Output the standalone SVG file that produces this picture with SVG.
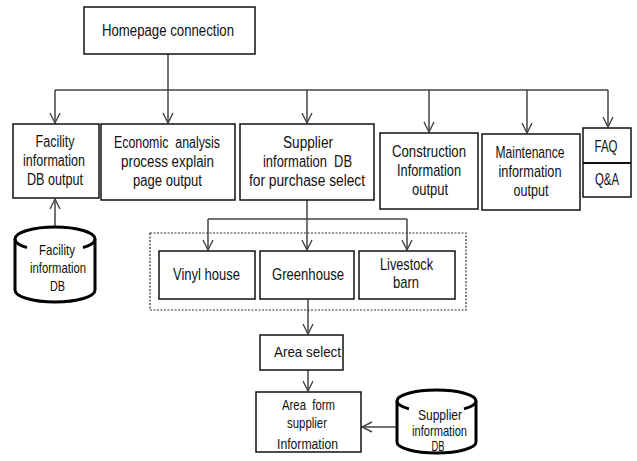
<svg xmlns="http://www.w3.org/2000/svg" width="637" height="461" viewBox="0 0 637 461">
  <defs>
    <marker id="arrow" markerUnits="userSpaceOnUse" markerWidth="12" markerHeight="12" viewBox="0 0 12 12" refX="11" refY="6" orient="auto">
      <path d="M1,1 L11,6 L1,11" fill="none" stroke="#444" stroke-width="1.4"/>
    </marker>
  </defs>
  <style>
    .box { fill: #fff; stroke: #111; stroke-width: 1.5; }
    .db { fill: #fff; stroke: #000; stroke-width: 3; }
    .dbline { fill: none; stroke: #000; stroke-width: 3; }
    .frame { fill: none; stroke: #333; stroke-width: 1.2; stroke-dasharray: 2 1.5; }
    .wire { fill: none; stroke: #444; stroke-width: 1.5; }
    .arr { fill: none; stroke: #444; stroke-width: 1.5; marker-end: url(#arrow); }
    text { font-family: "Liberation Sans", Arial, sans-serif; fill: #111; text-anchor: middle; }
    .t16 { font-size: 16px; }
    .t17 { font-size: 17px; }
    .t15 { font-size: 15px; }
    .t14 { font-size: 14.5px; }
  </style>

  <rect width="637" height="461" fill="#fff"/>

  <!-- connectors -->
  <g id="connectors">
    <path class="arr" d="M168,54 L168,123"/>
    <path class="wire" d="M55,90 L608,90"/>
    <path class="arr" d="M55,90 L55,123"/>
    <path class="arr" d="M307,90 L307,123"/>
    <path class="arr" d="M429,90 L429,132"/>
    <path class="arr" d="M527,90 L527,133"/>
    <path class="arr" d="M608,90 L608,127"/>
    <path class="arr" d="M55,227 L55,199"/>
    <path class="arr" d="M307,200 L307,250"/>
    <path class="wire" d="M208,219 L407,219"/>
    <path class="arr" d="M208,219 L208,250"/>
    <path class="arr" d="M407,219 L407,250"/>
    <path class="arr" d="M308,299 L308,334"/>
    <path class="arr" d="M308,370 L308,391"/>
    <path class="arr" d="M397,427 L362,427"/>
  </g>

  <g id="homepage">
    <rect class="box" x="84" y="7" width="171" height="47"/>
    <text class="t16" x="168" y="36" textLength="132" lengthAdjust="spacingAndGlyphs">Homepage connection</text>
  </g>

  <g id="facility-output">
    <rect class="box" x="13" y="124" width="86" height="74"/>
    <text class="t16" x="55" y="147" textLength="39" lengthAdjust="spacingAndGlyphs">Facility</text>
    <text class="t16" x="54" y="166" textLength="62" lengthAdjust="spacingAndGlyphs">information</text>
    <text class="t16" x="55" y="185" textLength="56" lengthAdjust="spacingAndGlyphs">DB output</text>
  </g>

  <g id="economic-analysis">
    <rect class="box" x="101" y="124" width="134" height="76"/>
    <text class="t16" x="167" y="148" textLength="106" lengthAdjust="spacingAndGlyphs" xml:space="preserve">Economic  analysis</text>
    <text class="t16" x="167.5" y="167" textLength="93" lengthAdjust="spacingAndGlyphs">process explain</text>
    <text class="t16" x="167.5" y="186" textLength="69" lengthAdjust="spacingAndGlyphs">page output</text>
  </g>

  <g id="supplier-select">
    <rect class="box" x="240" y="124" width="134" height="76"/>
    <text class="t16" x="308" y="148" textLength="50" lengthAdjust="spacingAndGlyphs">Supplier</text>
    <text class="t16" x="307.5" y="167" textLength="89" lengthAdjust="spacingAndGlyphs" xml:space="preserve">information  DB</text>
    <text class="t16" x="307" y="186" textLength="116" lengthAdjust="spacingAndGlyphs">for purchase select</text>
  </g>

  <g id="construction">
    <rect class="box" x="380" y="133" width="98" height="76"/>
    <text class="t17" x="429" y="157" textLength="74" lengthAdjust="spacingAndGlyphs">Construction</text>
    <text class="t17" x="429" y="176" textLength="64" lengthAdjust="spacingAndGlyphs">Information</text>
    <text class="t17" x="430" y="195" textLength="36" lengthAdjust="spacingAndGlyphs">output</text>
  </g>

  <g id="maintenance">
    <rect class="box" x="482" y="134" width="98" height="76"/>
    <text class="t17" x="530" y="158" textLength="69" lengthAdjust="spacingAndGlyphs">Maintenance</text>
    <text class="t17" x="530" y="177" textLength="63" lengthAdjust="spacingAndGlyphs">information</text>
    <text class="t17" x="531" y="196" textLength="35" lengthAdjust="spacingAndGlyphs">output</text>
  </g>

  <g id="faq-qa">
    <rect class="box" x="583" y="128" width="48" height="69"/>
    <path d="M583,163 L631,163" stroke="#111" stroke-width="2"/>
    <text class="t16" x="606" y="152" textLength="23" lengthAdjust="spacingAndGlyphs">FAQ</text>
    <text class="t16" x="607" y="185" textLength="24" lengthAdjust="spacingAndGlyphs">Q&amp;A</text>
  </g>

  <g id="facility-db">
    <path class="db" d="M15,290 L15,239 A40,12 0 0 1 95,239 L95,290 A40,12 0 0 1 15,290 Z"/>
    <path class="dbline" d="M15,239 A40,12 0 0 0 27,247.6 M95,239 A40,12 0 0 1 83,247.6"/>
    <text class="t14" x="57" y="255" textLength="36" lengthAdjust="spacingAndGlyphs">Facility</text>
    <text class="t14" x="58" y="273" textLength="56" lengthAdjust="spacingAndGlyphs">information</text>
    <text class="t14" x="57.5" y="291" textLength="15" lengthAdjust="spacingAndGlyphs">DB</text>
  </g>

  <g id="facility-types">
    <rect class="frame" x="150" y="233" width="316" height="77"/>
  </g>

  <g id="vinyl-house">
    <rect class="box" x="159" y="251" width="96" height="48"/>
    <text class="t17" x="206.5" y="280" textLength="67" lengthAdjust="spacingAndGlyphs">Vinyl house</text>
  </g>

  <g id="greenhouse">
    <rect class="box" x="260" y="251" width="94" height="48"/>
    <text class="t17" x="308" y="280" textLength="72" lengthAdjust="spacingAndGlyphs">Greenhouse</text>
  </g>

  <g id="livestock-barn">
    <rect class="box" x="359" y="251" width="96" height="48"/>
    <text class="t17" x="406.5" y="270" textLength="53" lengthAdjust="spacingAndGlyphs">Livestock</text>
    <text class="t17" x="406" y="288" textLength="26" lengthAdjust="spacingAndGlyphs">barn</text>
  </g>

  <g id="area-select">
    <rect class="box" x="260" y="335" width="83" height="35"/>
    <text class="t15" x="307.5" y="357" textLength="67" lengthAdjust="spacingAndGlyphs">Area select</text>
  </g>

  <g id="area-supplier">
    <rect class="box" x="256" y="392" width="105" height="60"/>
    <text class="t15" x="308.5" y="410" textLength="53" lengthAdjust="spacingAndGlyphs" xml:space="preserve">Area  form</text>
    <text class="t15" x="307" y="428" textLength="40" lengthAdjust="spacingAndGlyphs">supplier</text>
    <text class="t15" x="307.5" y="449" textLength="61" lengthAdjust="spacingAndGlyphs">Information</text>
  </g>

  <g id="supplier-db">
    <path class="db" d="M397,442 L397,401 A39.5,11 0 0 1 476,401 L476,442 A39.5,11 0 0 1 397,442 Z"/>
    <path class="dbline" d="M397,401 A39.5,11 0 0 0 409,408.9 M476,401 A39.5,11 0 0 1 464,408.9"/>
    <text class="t14" x="440" y="420" textLength="44" lengthAdjust="spacingAndGlyphs">Supplier</text>
    <text class="t14" x="439.5" y="436" textLength="55" lengthAdjust="spacingAndGlyphs">information</text>
    <text class="t14" x="438" y="451" textLength="13" lengthAdjust="spacingAndGlyphs">DB</text>
  </g>
</svg>
